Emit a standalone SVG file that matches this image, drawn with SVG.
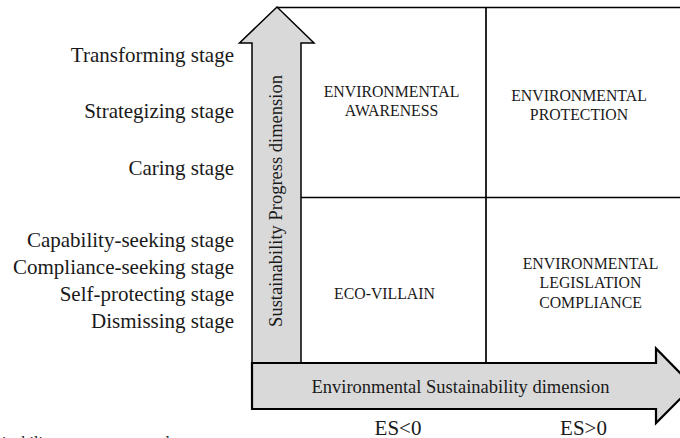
<svg xmlns="http://www.w3.org/2000/svg" width="680" height="438" viewBox="0 0 680 438">
  <style>
    text { font-family: "Liberation Serif", "Times New Roman", serif; fill: #1a1a1a; }
    .stage { font-size: 21px; text-anchor: end; }
    .cell { font-size: 15.8px; text-anchor: middle; }
    .axis { font-size: 18.5px; text-anchor: middle; }
    .es { font-size: 21px; text-anchor: middle; }
    .grid { stroke: #000; stroke-width: 1.7; fill: none; }
    .arrow { fill: #d9d9d9; stroke: #000; stroke-linejoin: miter; }
  </style>
  <rect width="680" height="438" fill="#fff"/>

  <g id="connectors">
    <line class="grid" x1="277" y1="7.5" x2="690" y2="7.5"/>
    <line class="grid" x1="486" y1="7.5" x2="486" y2="363"/>
    <line class="grid" x1="301" y1="197.5" x2="690" y2="197.5"/>
  </g>

  <g id="y-axis">
    <polygon class="arrow" stroke-width="1.5" points="252,363 252,43 239.5,43 277,7 314,43 301,43 301,363"/>
    <text class="axis" transform="translate(282,201) rotate(-90)">Sustainability Progress dimension</text>
  </g>

  <g id="x-axis">
    <polygon class="arrow" stroke-width="2.2" points="252,363 656,363 656,348.5 693,386 656,423 656,409 252,409"/>
    <text class="axis" x="460.5" y="392.5">Environmental Sustainability dimension</text>
  </g>

  <g id="q-awareness">
    <text class="cell" x="391.5" y="96.5">ENVIRONMENTAL</text>
    <text class="cell" x="391.5" y="115.5">AWARENESS</text>
  </g>
  <g id="q-protection">
    <text class="cell" x="579" y="100.5">ENVIRONMENTAL</text>
    <text class="cell" x="579" y="120">PROTECTION</text>
  </g>
  <g id="q-eco-villain">
    <text class="cell" x="384.5" y="298.5">ECO-VILLAIN</text>
  </g>
  <g id="q-legislation">
    <text class="cell" x="590.5" y="269">ENVIRONMENTAL</text>
    <text class="cell" x="590.5" y="288">LEGISLATION</text>
    <text class="cell" x="590.5" y="307.5">COMPLIANCE</text>
  </g>

  <g id="stages">
    <text class="stage" x="234" y="62">Transforming stage</text>
    <text class="stage" x="234" y="118">Strategizing stage</text>
    <text class="stage" x="234" y="174.5">Caring stage</text>
    <text class="stage" x="234" y="246.5">Capability-seeking stage</text>
    <text class="stage" x="234" y="273.5">Compliance-seeking stage</text>
    <text class="stage" x="234" y="301">Self-protecting stage</text>
    <text class="stage" x="234" y="328">Dismissing stage</text>
  </g>

  <g id="es-labels">
    <text class="es" x="398" y="435">ES&lt;0</text>
    <text class="es" x="583.5" y="435">ES&gt;0</text>
  </g>

  <text x="2" y="447.5" style="font-size:16px">inability management tool</text>
</svg>
